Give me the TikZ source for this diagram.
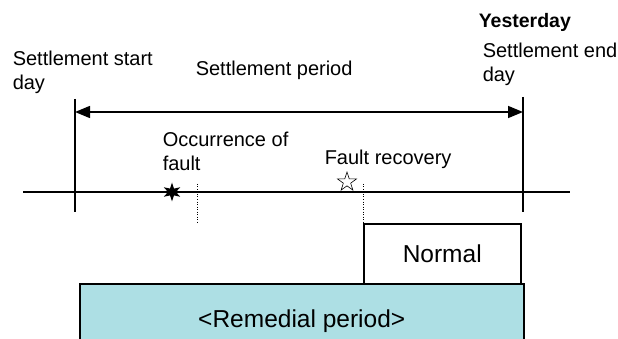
\documentclass[tikz,border=0pt]{standalone}
\usepackage{fontspec}
\setmainfont{Liberation Sans}
\usetikzlibrary{arrows.meta,shapes.geometric}
\definecolor{remedialblue}{RGB}{173,223,228}
\begin{document}
\begin{tikzpicture}[x=1pt,y=-1pt,line width=1.5pt,
  every node/.style={inner sep=0pt,font=\fontsize{20}{24}\selectfont},
  lbl/.style={anchor=base west,align=left},
  period/.style={{Triangle[length=15pt,width=12pt]}-{Triangle[length=15pt,width=12pt]}},
  fault/.style={star,star points=6,star point ratio=2.4,fill,minimum size=19pt},
  recovery/.style={star,star points=5,star point ratio=2.6,draw,line width=0.6pt,fill=white,minimum size=20pt},
  marker/.style={line width=0.8pt,dash pattern=on 1pt off 1.5pt},
  box/.style={draw,anchor=north west,font=\fontsize{24.5}{29}\selectfont}]
\clip (0,0) rectangle (618,339);

\coordinate (line-w) at (23,192);
\coordinate (line-e) at (570,192);
\coordinate (start-top) at (75,99);
\coordinate (start-bot) at (75,212);
\coordinate (end-top) at (523,97);
\coordinate (end-bot) at (523,212);
\coordinate (period-w) at (75,112);
\coordinate (period-e) at (523,112);
\coordinate (fault-top) at (197,184);
\coordinate (fault-bot) at (197,223);
\coordinate (recovery-top) at (363,184);

\node[lbl] (start-lbl) at (12,90) {Settlement start\\day};
\node[lbl] (period-lbl) at (195,76) {Settlement period};
\node[lbl,font=\fontsize{19.5}{23}\selectfont\bfseries] (yesterday) at (478,28) {Yesterday};
\node[lbl] (end-lbl) at (482,82) {Settlement end\\day};
\node[lbl] (fault-lbl) at (162,171) {Occurrence of\\fault};
\node[lbl] (recovery-lbl) at (324,165) {Fault recovery};

\draw (line-w) -- (line-e);
\draw (start-top) -- (start-bot);
\draw (end-top) -- (end-bot);
\draw[period] (period-w) -- (period-e);

\node[fault] (fault) at (172,192) {};
\node[recovery] (recovery) at (347,182) {};
\draw[marker] (fault-top) -- (fault-bot);

\node[box,minimum width=157pt,minimum height=60pt] (normal) at (363,223) {Normal};
\node[box,fill=remedialblue,minimum width=444pt,minimum height=74pt] (remedial) at (79,283) {<Remedial period>};
\draw[marker] (recovery-top) -- (normal.north west);
\end{tikzpicture}
\end{document}
